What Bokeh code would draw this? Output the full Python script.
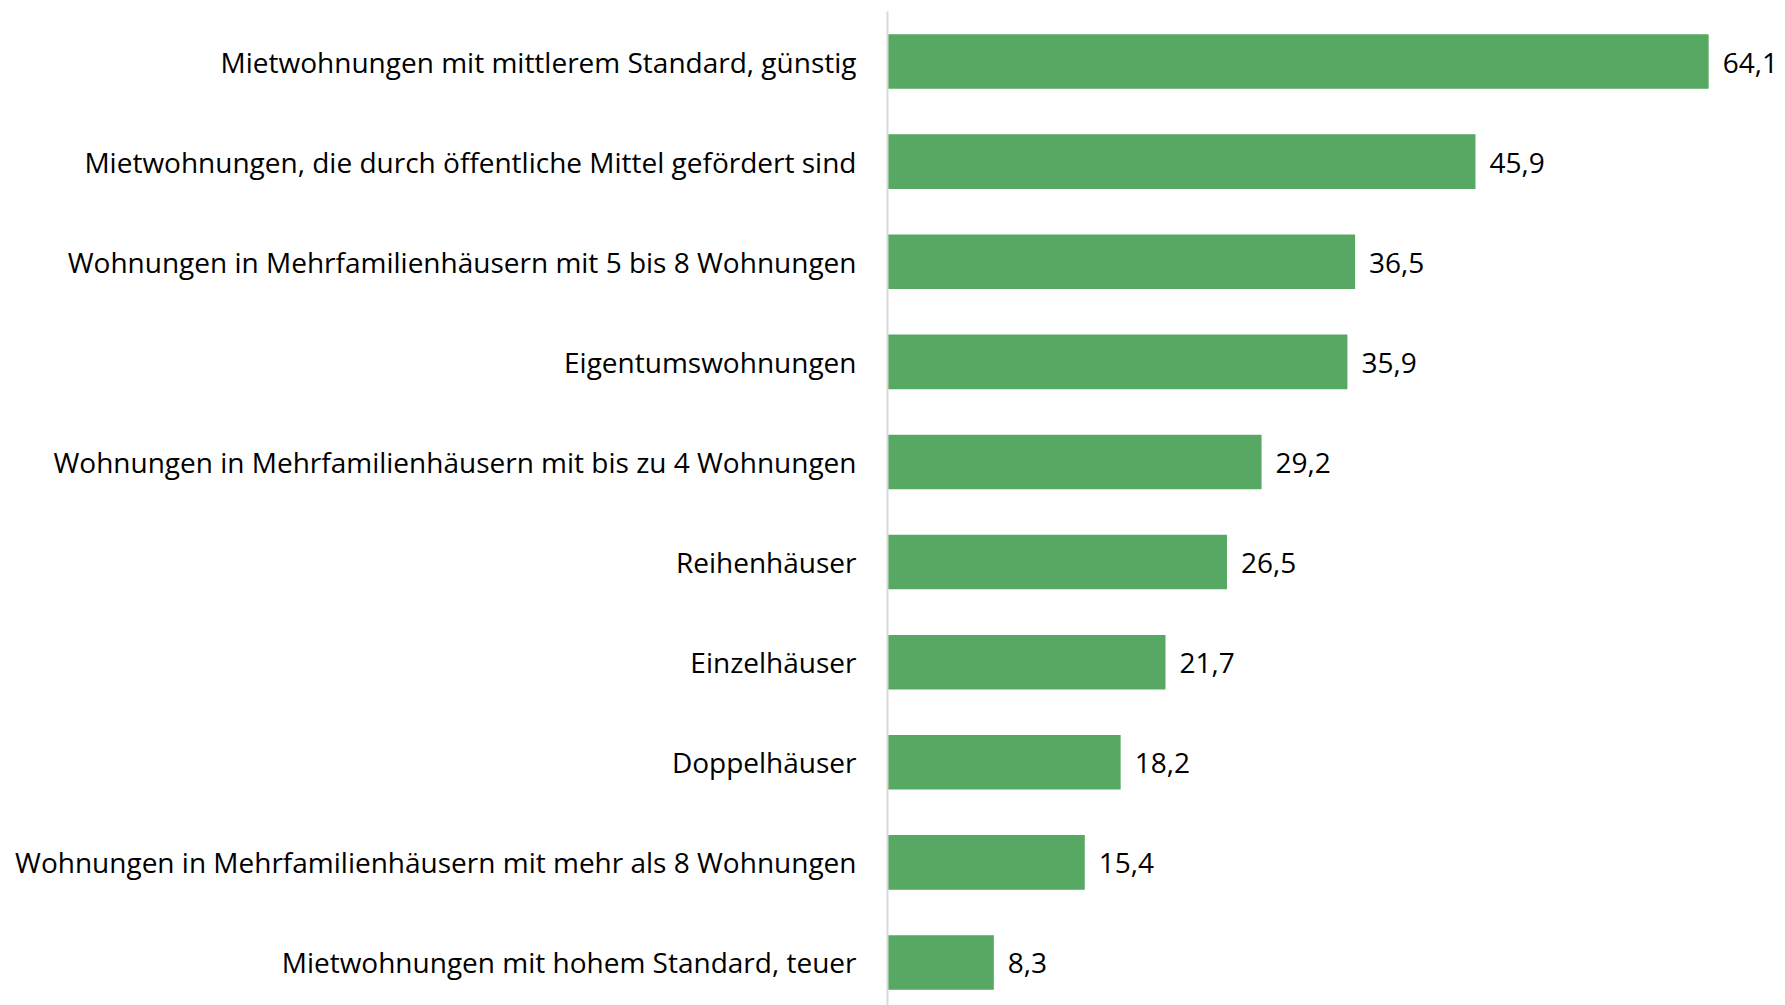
from bokeh.plotting import figure
from bokeh.models import Range1d, FixedTicker, ColumnDataSource
from bokeh.core.properties import value
from bokeh.embed import file_html
from bokeh.resources import INLINE

categories = [
    "Mietwohnungen mit mittlerem Standard, günstig",
    "Mietwohnungen, die durch öffentliche Mittel gefördert sind",
    "Wohnungen in Mehrfamilienhäusern mit 5 bis 8 Wohnungen",
    "Eigentumswohnungen",
    "Wohnungen in Mehrfamilienhäusern mit bis zu 4 Wohnungen",
    "Reihenhäuser",
    "Einzelhäuser",
    "Doppelhäuser",
    "Wohnungen in Mehrfamilienhäusern mit mehr als 8 Wohnungen",
    "Mietwohnungen mit hohem Standard, teuer",
]
values = [64.1, 45.9, 36.5, 35.9, 29.2, 26.5, 21.7, 18.2, 15.4, 8.3]

n = len(categories)
ypos = [n - 1 - i for i in range(n)]
labels = [f"{v:.1f}".replace(".", ",") for v in values]

src = ColumnDataSource(dict(y=ypos, v=values, lab=labels, cat=categories))

FONT = "Open Sans"
FS = "28px"

p = figure(width=1785, height=1005,
           x_range=Range1d(0, 70.1), y_range=Range1d(-0.43, 9.5),
           output_backend="svg", toolbar_location=None,
           min_border_left=887, min_border_right=0,
           min_border_top=11, min_border_bottom=0)
p.outline_line_color = None
p.xgrid.visible = False
p.ygrid.visible = False
p.xaxis.visible = False

p.hbar(y="y", right="v", left=0, height=0.545, source=src,
       fill_color="#56a862", line_color=None)

p.text(x="v", y="y", text="lab", source=src, x_offset=14, y_offset=1,
       text_align="left", text_baseline="middle",
       text_font=value(FONT), text_font_size=FS, text_color="#000000")

ax = p.yaxis[0]
ax.ticker = FixedTicker(ticks=ypos)
ax.major_label_overrides = {y: c for y, c in zip(ypos, categories)}
ax.major_tick_line_color = None
ax.minor_tick_line_color = None
ax.axis_line_color = "#d9d9d9"
ax.axis_line_width = 2
ax.major_label_standoff = 25
ax.major_label_text_font = FONT
ax.major_label_text_font_size = FS
ax.major_label_text_color = "#000000"

open("out.html", "w").write(file_html(p, INLINE))
